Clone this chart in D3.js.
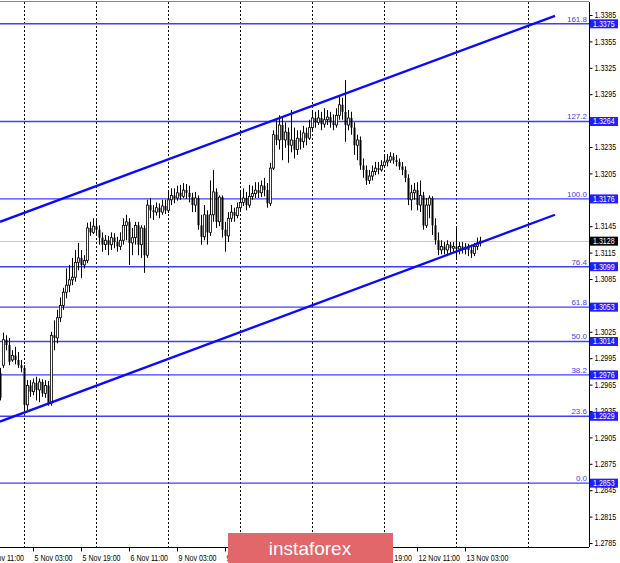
<!DOCTYPE html>
<html>
<head>
<meta charset="utf-8">
<script src="https://cdn.jsdelivr.net/npm/d3@7"></script>
<style>
  html, body { margin: 0; padding: 0; background: #fff; }
  svg { display: block; }
  text { font-family: "Liberation Sans", Arial, sans-serif; }
</style>
</head>
<body>
<svg id="chart" width="620" height="563"></svg>
<script>
// ---------- DATA ----------
// Hourly bars (trading-hour index, 0 = 4 Nov 00:00)
const firstBar = 16;
const opens = [1.2978,1.2987,1.3016,1.3010,1.2993,1.2998,1.2993,1.2987,1.2984,1.2942,1.2964,1.2957,1.2967,1.2959,1.2968,1.2955,1.2964,1.2944,1.3021,1.3018,1.3041,1.3055,1.3070,1.3078,1.3084,1.3087,1.3104,1.3109,1.3101,1.3106,1.3143,1.3138,1.3145,1.3141,1.3132,1.3124,1.3129,1.3124,1.3132,1.3127,1.3122,1.3129,1.3146,1.3150,1.3126,1.3132,1.3146,1.3124,1.3143,1.3112,1.3169,1.3163,1.3161,1.3166,1.3161,1.3168,1.3163,1.3175,1.3180,1.3177,1.3183,1.3179,1.3186,1.3183,1.3178,1.3169,1.3177,1.3146,1.3133,1.3158,1.3138,1.3158,1.3184,1.3150,1.3178,1.3141,1.3134,1.3154,1.3161,1.3157,1.3166,1.3172,1.3177,1.3169,1.3179,1.3182,1.3186,1.3183,1.3191,1.3186,1.3171,1.3211,1.3249,1.3243,1.3260,1.3243,1.3252,1.3237,1.3243,1.3232,1.3245,1.3241,1.3251,1.3245,1.3257,1.3268,1.3263,1.3268,1.3261,1.3266,1.3269,1.3263,1.3260,1.3271,1.3283,1.3275,1.3260,1.3268,1.3257,1.3237,1.3243,1.3214,1.3209,1.3197,1.3202,1.3207,1.3211,1.3209,1.3214,1.3218,1.3220,1.3224,1.3220,1.3218,1.3213,1.3209,1.3200,1.3175,1.3183,1.3186,1.3169,1.3180,1.3146,1.3169,1.3177,1.3146,1.3129,1.3118,1.3122,1.3118,1.3124,1.3120,1.3122,1.3119,1.3122,1.3119,1.3121,1.3118,1.3114,1.3122,1.3126];
const highs = [1.2984,1.3024,1.3021,1.3018,1.3004,1.3008,1.3002,1.2993,1.2987,1.2970,1.2970,1.2972,1.2974,1.2972,1.2971,1.2970,1.2969,1.3025,1.3038,1.3050,1.3064,1.3075,1.3097,1.3101,1.3109,1.3118,1.3126,1.3118,1.3112,1.3149,1.3150,1.3154,1.3152,1.3146,1.3138,1.3135,1.3134,1.3138,1.3137,1.3133,1.3138,1.3154,1.3158,1.3154,1.3143,1.3150,1.3150,1.3146,1.3146,1.3175,1.3177,1.3169,1.3172,1.3171,1.3175,1.3175,1.3184,1.3188,1.3188,1.3191,1.3192,1.3194,1.3193,1.3191,1.3183,1.3184,1.3180,1.3158,1.3169,1.3163,1.3197,1.3209,1.3188,1.3180,1.3180,1.3150,1.3161,1.3169,1.3166,1.3172,1.3184,1.3188,1.3184,1.3192,1.3191,1.3195,1.3195,1.3197,1.3200,1.3194,1.3217,1.3254,1.3268,1.3271,1.3268,1.3263,1.3257,1.3277,1.3257,1.3254,1.3254,1.3259,1.3257,1.3266,1.3275,1.3275,1.3277,1.3275,1.3279,1.3277,1.3275,1.3272,1.3279,1.3294,1.3291,1.3311,1.3277,1.3275,1.3263,1.3249,1.3247,1.3222,1.3214,1.3209,1.3214,1.3218,1.3218,1.3220,1.3225,1.3227,1.3229,1.3228,1.3226,1.3222,1.3218,1.3213,1.3204,1.3192,1.3194,1.3195,1.3197,1.3184,1.3177,1.3180,1.3179,1.3154,1.3138,1.3129,1.3127,1.3129,1.3127,1.3127,1.3143,1.3127,1.3127,1.3126,1.3125,1.3124,1.3126,1.3132,1.3133];
const lows = [1.2947,1.2984,1.3004,1.2987,1.2991,1.2988,1.2984,1.2979,1.2934,1.2936,1.2951,1.2953,1.2947,1.2945,1.2951,1.2950,1.2941,1.2941,1.3004,1.3012,1.3036,1.3050,1.3063,1.3070,1.3078,1.3082,1.3095,1.3086,1.3097,1.3103,1.3134,1.3136,1.3134,1.3124,1.3116,1.3118,1.3112,1.3118,1.3120,1.3116,1.3118,1.3124,1.3129,1.3101,1.3112,1.3124,1.3112,1.3109,1.3092,1.3109,1.3154,1.3152,1.3157,1.3154,1.3158,1.3159,1.3160,1.3169,1.3171,1.3174,1.3175,1.3177,1.3176,1.3172,1.3161,1.3161,1.3141,1.3124,1.3129,1.3124,1.3134,1.3150,1.3143,1.3145,1.3132,1.3116,1.3127,1.3150,1.3150,1.3154,1.3161,1.3168,1.3163,1.3166,1.3175,1.3177,1.3177,1.3178,1.3179,1.3166,1.3168,1.3209,1.3237,1.3232,1.3220,1.3234,1.3217,1.3229,1.3222,1.3226,1.3232,1.3234,1.3237,1.3243,1.3252,1.3257,1.3260,1.3254,1.3257,1.3260,1.3257,1.3254,1.3257,1.3266,1.3266,1.3241,1.3254,1.3249,1.3226,1.3220,1.3209,1.3200,1.3192,1.3193,1.3197,1.3203,1.3204,1.3207,1.3211,1.3213,1.3217,1.3216,1.3213,1.3209,1.3203,1.3195,1.3169,1.3163,1.3175,1.3163,1.3161,1.3141,1.3143,1.3154,1.3135,1.3124,1.3112,1.3113,1.3113,1.3111,1.3114,1.3116,1.3109,1.3113,1.3114,1.3113,1.3111,1.3109,1.3111,1.3118,1.3122];
const closes = [1.2950,1.3016,1.3010,1.2991,1.2998,1.2993,1.2987,1.2984,1.2942,1.2964,1.2957,1.2967,1.2959,1.2968,1.2955,1.2964,1.2944,1.3021,1.3018,1.3041,1.3055,1.3070,1.3078,1.3084,1.3087,1.3104,1.3109,1.3101,1.3106,1.3143,1.3138,1.3145,1.3141,1.3132,1.3124,1.3129,1.3124,1.3132,1.3127,1.3122,1.3129,1.3146,1.3150,1.3126,1.3132,1.3146,1.3124,1.3143,1.3112,1.3169,1.3163,1.3161,1.3166,1.3161,1.3168,1.3163,1.3175,1.3180,1.3177,1.3183,1.3179,1.3186,1.3183,1.3178,1.3169,1.3177,1.3146,1.3133,1.3158,1.3138,1.3158,1.3184,1.3150,1.3178,1.3141,1.3134,1.3154,1.3161,1.3157,1.3166,1.3172,1.3177,1.3169,1.3179,1.3182,1.3186,1.3183,1.3191,1.3186,1.3171,1.3211,1.3249,1.3243,1.3260,1.3243,1.3252,1.3237,1.3243,1.3232,1.3245,1.3241,1.3251,1.3245,1.3257,1.3268,1.3263,1.3268,1.3261,1.3266,1.3269,1.3263,1.3260,1.3271,1.3283,1.3275,1.3260,1.3268,1.3257,1.3237,1.3243,1.3214,1.3209,1.3197,1.3202,1.3207,1.3211,1.3209,1.3214,1.3218,1.3220,1.3224,1.3220,1.3218,1.3213,1.3209,1.3200,1.3175,1.3183,1.3186,1.3169,1.3180,1.3146,1.3169,1.3177,1.3146,1.3129,1.3118,1.3122,1.3118,1.3124,1.3120,1.3122,1.3119,1.3122,1.3119,1.3121,1.3118,1.3114,1.3122,1.3126,1.3128];

const priceTicks = [1.3385,1.3355,1.3325,1.3295,1.3265,1.3235,1.3205,1.3175,1.3145,1.3115,1.3085,1.3055,1.3025,1.2995,1.2965,1.2935,1.2905,1.2875,1.2845,1.2815,1.2785];
const timeLabelBars = [11,27,43,59,75,91,107,123,139,155,171];
const timeLabels = ["4 Nov 11:00","5 Nov 03:00","5 Nov 19:00","6 Nov 11:00","9 Nov 03:00","9 Nov 19:00","10 Nov 11:00","11 Nov 03:00","11 Nov 19:00","12 Nov 11:00","13 Nov 03:00"];
const gridBars = [24,48,72,96,120,144,168,192];

const fibNames = ["161.8","127.2","100.0","76.4","61.8","50.0","38.2","23.6","0.0"];
const fibPrices = [1.3375,1.3264,1.3176,1.3099,1.3053,1.3014,1.2976,1.2929,1.2853];

const upperChannel = [[16,1.3150],[201,1.3384]];
const lowerChannel = [[16,1.2923],[201,1.3158]];
const lastPrice = 1.3128;

// ---------- LAYOUT ----------
const W = 620, H = 563;
const plotL = 0, plotR = 589, plotT = 2, plotB = 547;
const squeeze = 0.83; // horizontal condensing of axis text (Tahoma-like)

const x = d3.scaleLinear().domain([24, 192]).range([24, 528]);
const y = d3.scaleLinear().domain([1.2785, 1.3385]).range([543, 15]);

const svg = d3.select("#chart");
svg.append("rect").attr("width", W).attr("height", H).attr("fill", "#fff");

svg.append("defs").append("clipPath").attr("id", "plotClip")
  .append("rect").attr("x", plotL).attr("y", plotT).attr("width", plotR - plotL).attr("height", plotB - plotT);

const plot = svg.append("g").attr("clip-path", "url(#plotClip)");

function condense(sel) {
  sel.each(function () {
    const len = this.getComputedTextLength();
    d3.select(this).attr("textLength", len * squeeze).attr("lengthAdjust", "spacingAndGlyphs");
  });
}

// vertical dotted grid
plot.selectAll("line.grid").data(gridBars).join("line")
  .attr("class", "grid")
  .attr("x1", d => Math.round(x(d)) + 0.5).attr("x2", d => Math.round(x(d)) + 0.5)
  .attr("y1", plotT).attr("y2", plotB)
  .attr("stroke", "#000").attr("stroke-width", 1).attr("stroke-dasharray", "2,2");

// current price line
plot.append("line")
  .attr("x1", plotL).attr("x2", plotR)
  .attr("y1", Math.round(y(lastPrice)) + 0.5).attr("y2", Math.round(y(lastPrice)) + 0.5)
  .attr("stroke", "#c4c4c4").attr("stroke-width", 1);

// fibo lines
plot.selectAll("line.fib").data(fibPrices).join("line")
  .attr("class", "fib")
  .attr("x1", plotL).attr("x2", plotR)
  .attr("y1", d => y(d)).attr("y2", d => y(d))
  .attr("stroke", "#3f3fff").attr("stroke-width", 1.4);

// candles
const bars = opens.map((o, i) => ({ i: firstBar + i, o, h: highs[i], l: lows[i], c: closes[i] }));
const cg = plot.append("g");
cg.selectAll("line.wick").data(bars).join("line")
  .attr("x1", d => Math.round(x(d.i)) + 0.5).attr("x2", d => Math.round(x(d.i)) + 0.5)
  .attr("y1", d => y(d.h)).attr("y2", d => y(d.l))
  .attr("stroke", "#000").attr("stroke-width", 1);
cg.selectAll("rect.body").data(bars).join("rect")
  .attr("x", d => Math.round(x(d.i)) - 0.5)
  .attr("width", 2)
  .attr("y", d => y(Math.max(d.o, d.c)))
  .attr("height", d => Math.max(1, Math.abs(y(d.o) - y(d.c))))
  .attr("fill", d => d.c >= d.o ? "#fff" : "#000")
  .attr("stroke", "#000").attr("stroke-width", d => d.c >= d.o ? 0.8 : 0);

// channel lines
const chLine = d3.line().x(d => x(d[0])).y(d => y(d[1]));
[upperChannel, lowerChannel].forEach(ch => {
  plot.append("path").attr("d", chLine(ch))
    .attr("fill", "none").attr("stroke", "#0a0aff").attr("stroke-width", 2.3);
});

// fibo labels (text above line, right aligned)
plot.selectAll("text.fibt").data(fibPrices).join("text")
  .attr("class", "fibt")
  .attr("x", plotR - 2).attr("y", d => y(d) - 2)
  .attr("text-anchor", "end").attr("font-size", 8).attr("fill", "#3f3fff")
  .text((d, i) => fibNames[i]);

// frame
svg.append("line").attr("x1", 0).attr("x2", plotR).attr("y1", 1.5).attr("y2", 1.5)
  .attr("stroke", "#8a8a8a").attr("stroke-width", 1);

// right price axis
const yAxis = d3.axisRight(y).tickValues(priceTicks).tickFormat(d3.format(".4f")).tickSize(3).tickPadding(2);
const ya = svg.append("g").attr("transform", `translate(${plotR + 0.5},0)`).call(yAxis);
ya.select(".domain").attr("d", `M0,${plotT}V${plotB}`).attr("stroke", "#000");
ya.selectAll("text").attr("font-size", 8.5).attr("fill", "#000").call(condense);

// bottom time axis
const xAxis = d3.axisBottom(x).tickValues(timeLabelBars).tickFormat((d, i) => timeLabels[i]).tickSize(4).tickPadding(3);
const xa = svg.append("g").attr("transform", `translate(0,${plotB + 0.5})`).call(xAxis);
xa.select(".domain").attr("d", `M${plotL},0H${plotR}`).attr("stroke", "#000");
xa.selectAll("text").attr("font-size", 8.5).attr("text-anchor", "start").attr("dx", 1)
  .attr("fill", "#000").call(condense);

// fibo price boxes on the axis
const fb = svg.append("g");
fibPrices.forEach(p => {
  const yy = y(p);
  fb.append("rect").attr("x", plotR + 1).attr("y", yy - 4.5).attr("width", 28).attr("height", 9).attr("fill", "#1f1fff");
  fb.append("text").attr("x", plotR + 4).attr("y", yy).attr("dy", "0.34em")
    .attr("font-size", 8.5).attr("fill", "#fff").text(d3.format(".4f")(p)).call(condense);
});
// last price box
svg.append("rect").attr("x", plotR + 1).attr("y", y(lastPrice) - 4.5).attr("width", 28).attr("height", 9).attr("fill", "#000");
svg.append("text").attr("x", plotR + 4).attr("y", y(lastPrice)).attr("dy", "0.34em")
  .attr("font-size", 8.5).attr("fill", "#fff").text(d3.format(".4f")(lastPrice)).call(condense);

// logo
svg.append("rect").attr("x", 228).attr("y", 533).attr("width", 165).attr("height", 30).attr("fill", "#e2676a");
svg.append("text").attr("x", 310).attr("y", 555).attr("text-anchor", "middle")
  .attr("font-family", "Lato, 'Open Sans', sans-serif").attr("font-weight", 300)
  .attr("font-size", 19).attr("fill", "#fff").text("instaforex");
</script>
</body>
</html>
